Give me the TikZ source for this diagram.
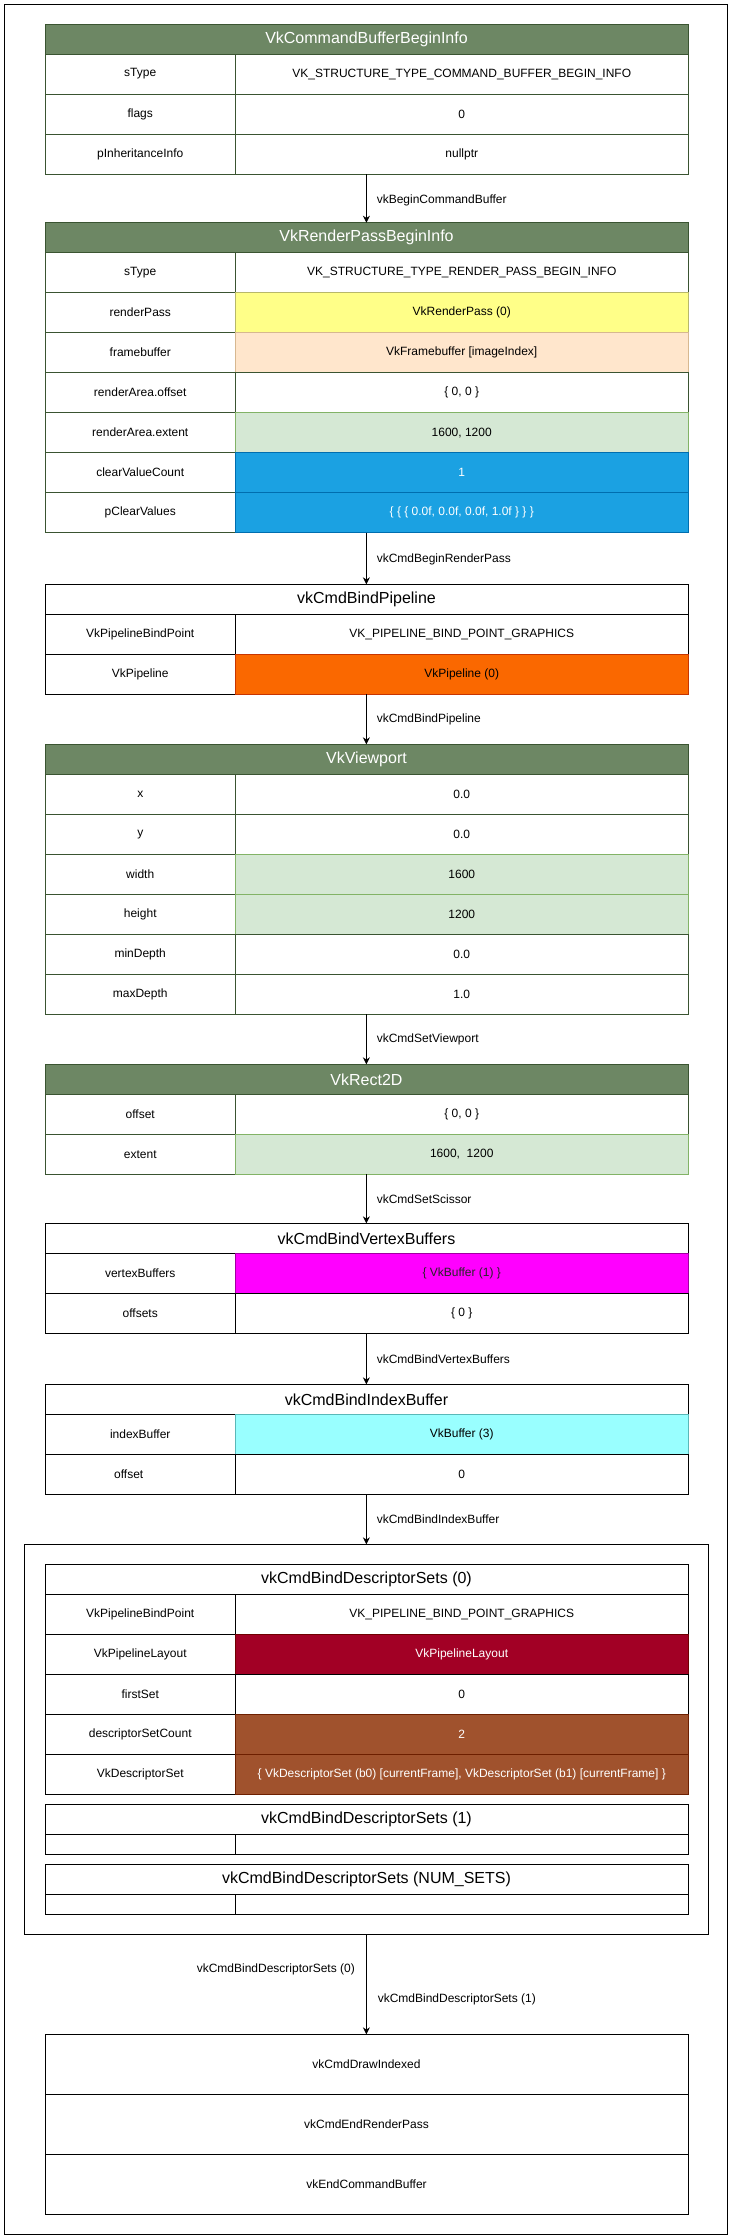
\documentclass[tikz,border=0pt]{standalone}
\usepackage{fontspec}
\setmainfont{Liberation Sans}
\usetikzlibrary{arrows.meta}
\definecolor{hdrgreen}{HTML}{6D8764}
\definecolor{gborder}{HTML}{3A5431}
\definecolor{cyellow}{HTML}{FFFF88}
\definecolor{syellow}{HTML}{B8B86A}
\definecolor{cpeach}{HTML}{FFE6CC}
\definecolor{speach}{HTML}{D7B890}
\definecolor{clgreen}{HTML}{D5E8D4}
\definecolor{slgreen}{HTML}{82B366}
\definecolor{cblue}{HTML}{1BA1E2}
\definecolor{sblue}{HTML}{006EAF}
\definecolor{corange}{HTML}{FA6800}
\definecolor{sorange}{HTML}{C73500}
\definecolor{cmagenta}{HTML}{FF00FF}
\definecolor{smagenta}{HTML}{A000A0}
\definecolor{ccyan}{HTML}{99FFFF}
\definecolor{scyan}{HTML}{5AB8B8}
\definecolor{cdred}{HTML}{A20025}
\definecolor{sdred}{HTML}{6F0000}
\definecolor{cbrown}{HTML}{A0522D}
\definecolor{sbrown}{HTML}{6D1F00}
\tikzset{
  cellbase/.style={draw=black,line width=0.9pt,fill=white,rectangle,inner sep=0pt,outer sep=0pt,
    font=\fontsize{12}{14}\selectfont,text=black},
  gtable/.style={cellbase/.append style={draw=gborder}},
  gtitle/.style={fill=hdrgreen,text=white,font=\fontsize{16}{19}\selectfont},
  wtitle/.style={fill=white,text=black,font=\fontsize{16}{19}\selectfont},
  vyellow/.style={fill=cyellow,draw=syellow},
  vpeach/.style={fill=cpeach,draw=speach},
  vlgreen/.style={fill=clgreen,draw=slgreen},
  vblue/.style={fill=cblue,draw=sblue,text=white},
  vorange/.style={fill=corange,draw=sorange,text=black},
  vmagenta/.style={fill=cmagenta,draw=smagenta,text=black!85},
  vcyan/.style={fill=ccyan,draw=scyan},
  vdred/.style={fill=cdred,draw=sdred,text=white},
  vbrown/.style={fill=cbrown,draw=sbrown,text=white},
  frm/.style={draw=black,line width=0.9pt,rectangle,inner sep=0pt,outer sep=0pt},
  arr/.style={draw=black,line width=0.9pt,-{Stealth[length=7pt,width=7pt]}},
  lbl/.style={font=\fontsize{12}{14}\selectfont,text=black,inner sep=0pt}
}
\def\L{45}\def\M{235.5}\def\R{688}
% #1 name, #2 x1, #3 y1, #4 x2, #5 y2, #6 style, #7 text
\newcommand\tcell[7]{\node[cellbase,#6,minimum width={#4-#2},minimum height={#5-#3}] (#1) at ({(#2+#4)/2},{(#3+#5)/2}) {#7};}
% #1 name, #2 y1, #3 y2, #4 key, #5 value style, #6 value
\newcommand\trow[6]{\tcell{#1k}{\L}{#2}{\M}{#3}{}{#4}\tcell{#1v}{\M}{#2}{\R}{#3}{#5}{#6}}
\newcommand\ttitle[5]{\tcell{#1}{\L}{#2}{\R}{#3}{#4}{#5}}
\begin{document}
\begin{tikzpicture}[x=1pt,y=-1pt]
\useasboundingbox (0,0) rectangle (729,2239);
\fill[white] (0,0) rectangle (729,2239);
\node[frm,minimum width=722.9,minimum height=2229.6] (outer) at (366.15,1119.5) {};

% Table 1
\begin{scope}[gtable]
\ttitle{t1}{24}{54}{gtitle}{VkCommandBufferBeginInfo}
\trow{t1a}{54}{94}{sType}{}{VK\_STRUCTURE\_TYPE\_COMMAND\_BUFFER\_BEGIN\_INFO}
\trow{t1b}{94}{134}{flags}{}{0}
\trow{t1c}{134}{174}{pInheritanceInfo}{}{nullptr}
\end{scope}

% Table 2
\begin{scope}[gtable]
\ttitle{t2}{222.7}{252.7}{gtitle}{VkRenderPassBeginInfo}
\trow{t2a}{252.7}{292.7}{sType}{}{VK\_STRUCTURE\_TYPE\_RENDER\_PASS\_BEGIN\_INFO}
\trow{t2b}{292.7}{332.7}{renderPass}{vyellow}{VkRenderPass (0)}
\trow{t2c}{332.7}{372.7}{framebuffer}{vpeach}{VkFramebuffer [imageIndex]}
\trow{t2d}{372.7}{412.7}{renderArea.offset}{}{\{ 0, 0 \}}
\trow{t2e}{412.7}{452.7}{renderArea.extent}{vlgreen}{1600, 1200}
\trow{t2f}{452.7}{492.7}{clearValueCount}{vblue}{1}
\trow{t2g}{492.7}{532.7}{pClearValues}{vblue}{\{ \{ \{ 0.0f, 0.0f, 0.0f, 1.0f \} \} \}}
\end{scope}

% Table 3
\ttitle{t3}{584.3}{614.3}{wtitle}{vkCmdBindPipeline}
\trow{t3a}{614.3}{654.3}{VkPipelineBindPoint}{}{VK\_PIPELINE\_BIND\_POINT\_GRAPHICS}
\trow{t3b}{654.3}{694.3}{VkPipeline}{vorange}{VkPipeline (0)}

% Table 4
\begin{scope}[gtable]
\ttitle{t4}{744.3}{774.3}{gtitle}{VkViewport}
\trow{t4a}{774.3}{814.3}{x}{}{0.0}
\trow{t4b}{814.3}{854.3}{y}{}{0.0}
\trow{t4c}{854.3}{894.3}{width}{vlgreen}{1600}
\trow{t4d}{894.3}{934.3}{height}{vlgreen}{1200}
\trow{t4e}{934.3}{974.3}{minDepth}{}{0.0}
\trow{t4f}{974.3}{1014.3}{maxDepth}{}{1.0}
\end{scope}

% Table 5
\begin{scope}[gtable]
\ttitle{t5}{1064.3}{1094.3}{gtitle}{VkRect2D}
\trow{t5a}{1094.3}{1134.3}{offset}{}{\{ 0, 0 \}}
\trow{t5b}{1134.3}{1174.3}{extent}{vlgreen}{1600,\ \ 1200}
\end{scope}

% Table 6
\ttitle{t6}{1223.3}{1253.3}{wtitle}{vkCmdBindVertexBuffers}
\trow{t6a}{1253.3}{1293.3}{vertexBuffers}{vmagenta}{\{ VkBuffer (1) \}}
\trow{t6b}{1293.3}{1333.3}{offsets}{}{\{ 0 \}}

% Table 7
\ttitle{t7}{1384.3}{1414.3}{wtitle}{vkCmdBindIndexBuffer}
\trow{t7a}{1414.3}{1454.3}{indexBuffer}{vcyan}{VkBuffer (3)}
\tcell{t7bk}{\L}{1454.3}{\M}{1494.3}{}{\hspace*{-23pt}offset}
\tcell{t7bv}{\M}{1454.3}{\R}{1494.3}{}{0}

% Descriptor sets container
\node[frm,minimum width=683.7,minimum height=390] (ds) at (366.15,1739.3) {};
\ttitle{d0}{1564.3}{1594.3}{wtitle}{vkCmdBindDescriptorSets (0)}
\trow{d0a}{1594.3}{1634.3}{VkPipelineBindPoint}{}{VK\_PIPELINE\_BIND\_POINT\_GRAPHICS}
\trow{d0b}{1634.3}{1674.3}{VkPipelineLayout}{vdred}{VkPipelineLayout}
\trow{d0c}{1674.3}{1714.3}{firstSet}{}{0}
\trow{d0d}{1714.3}{1754.3}{descriptorSetCount}{vbrown}{2}
\trow{d0e}{1754.3}{1794.3}{VkDescriptorSet}{vbrown}{\{ VkDescriptorSet (b0) [currentFrame], VkDescriptorSet (b1) [currentFrame] \}}

\ttitle{d1}{1804.3}{1834.3}{wtitle}{vkCmdBindDescriptorSets (1)}
\trow{d1a}{1834.3}{1854.3}{}{}{}
\ttitle{dn}{1864.3}{1894.3}{wtitle}{vkCmdBindDescriptorSets (NUM\_SETS)}
\trow{dna}{1894.3}{1914.3}{}{}{}

% Final box
\ttitle{f1}{2034.3}{2094.3}{}{vkCmdDrawIndexed}
\ttitle{f2}{2094.3}{2154.3}{}{vkCmdEndRenderPass}
\ttitle{f3}{2154.3}{2214.3}{}{vkEndCommandBuffer}

% Connectors
\coordinate (a1s) at (366.4,174);
\draw[arr] (a1s) -- (366.4,222.7) coordinate (a1e);
\node[lbl,anchor=west] (l1) at (376.6,200.7) {vkBeginCommandBuffer};
\coordinate (a2s) at (366.4,532.7);
\draw[arr] (a2s) -- (t3.north -| a2s);
\node[lbl,anchor=west] (l2) at (376.6,559) {vkCmdBeginRenderPass};
\draw[arr] (t3bv.south -| a2s) -- (t4.north -| a2s);
\node[lbl,anchor=west] (l3) at (376.6,719) {vkCmdBindPipeline};
\draw[arr] (t4fv.south -| a2s) -- (t5.north -| a2s);
\node[lbl,anchor=west] (l4) at (376.6,1039) {vkCmdSetViewport};
\draw[arr] (t5bv.south -| a2s) -- (t6.north -| a2s);
\node[lbl,anchor=west] (l5) at (376.6,1199) {vkCmdSetScissor};
\draw[arr] (t6bv.south -| a2s) -- (t7.north -| a2s);
\node[lbl,anchor=west] (l6) at (376.6,1359.3) {vkCmdBindVertexBuffers};
\draw[arr] (t7bv.south -| a2s) -- (ds.north -| a2s);
\node[lbl,anchor=west] (l7) at (376.6,1519) {vkCmdBindIndexBuffer};
\draw[arr] (ds.south -| a2s) -- (f1.north -| a2s);
\node[lbl,anchor=east] (l8) at (355,1969) {vkCmdBindDescriptorSets (0)};
\node[lbl,anchor=west] (l9) at (377.6,1999) {vkCmdBindDescriptorSets (1)};
\end{tikzpicture}
\end{document}
